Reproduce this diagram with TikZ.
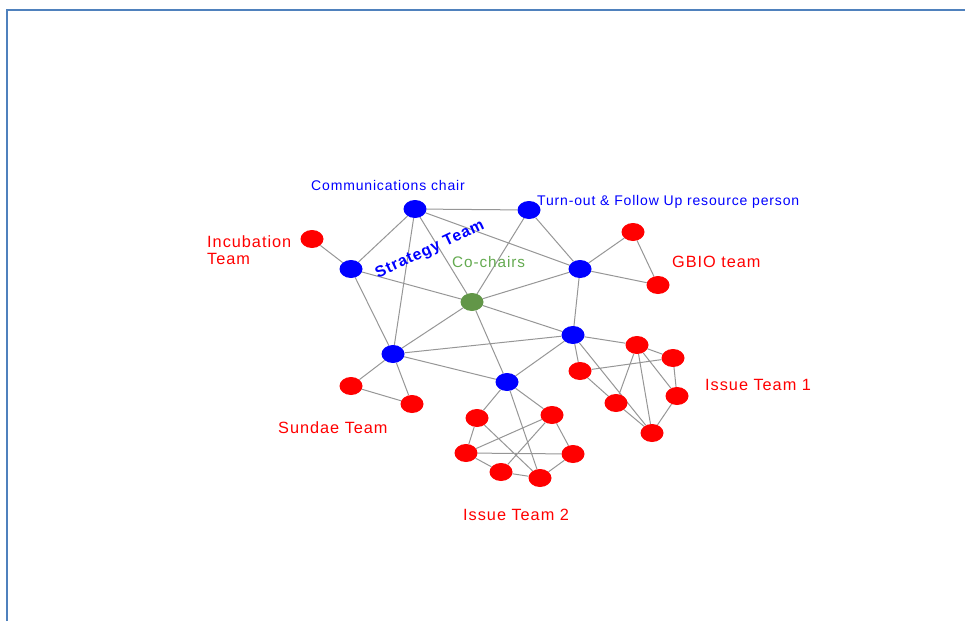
\documentclass[tikz,border=0pt]{standalone}
\usepackage{fontspec}
\setmainfont{Liberation Sans}
\newfontfamily\labfont[LetterSpace=6]{Liberation Sans}
\usetikzlibrary{shapes.geometric,backgrounds}
\definecolor{frameblue}{RGB}{79,129,189}
\definecolor{edgegray}{RGB}{150,150,150}
\definecolor{nodeblue}{RGB}{0,0,255}
\definecolor{nodered}{RGB}{255,0,0}
\definecolor{nodegreen}{RGB}{98,150,72}
\definecolor{textgreen}{RGB}{100,170,80}
\tikzset{
  vtx/.style={ellipse,minimum width=23pt,minimum height=18pt,inner sep=0pt},
  bluev/.style={vtx,fill=nodeblue},
  redv/.style={vtx,fill=nodered},
  greenv/.style={vtx,fill=nodegreen},
  edge/.style={draw=edgegray,line width=1pt},
  bluelab/.style={inner sep=0pt,text=nodeblue,font=\labfont\fontsize{14}{16}\selectfont},
  redlab/.style={inner sep=0pt,text=nodered,font=\labfont\fontsize{16.3}{18}\selectfont},
}
\begin{document}
\begin{tikzpicture}[x=1pt,y=-1pt]
\useasboundingbox (0,0) rectangle (965,621);
% frame
\draw[frameblue,line width=2pt] (7,621) -- (7,10) -- (965,10);
% blue nodes
\node[bluev] (C) at (415,209) {};
\node[bluev] (T) at (529,210) {};
\node[bluev] (SL) at (351,269) {};
\node[bluev] (R) at (580,269) {};
\node[greenv] (G) at (472,302) {};
\node[bluev] (R2) at (573,335) {};
\node[bluev] (L) at (393,354) {};
\node[bluev] (B) at (507,382) {};
% red nodes
\node[redv] (Inc) at (312,239) {};
\node[redv] (GB1) at (633,232) {};
\node[redv] (GB2) at (658,285) {};
\node[redv] (S1) at (351,386) {};
\node[redv] (S2) at (412,404) {};
\node[redv] (ia) at (637,345) {};
\node[redv] (ib) at (673,358) {};
\node[redv] (ic) at (580,371) {};
\node[redv] (id) at (677,396) {};
\node[redv] (ie) at (616,403) {};
\node[redv] (if) at (652,433) {};
\node[redv] (ja) at (477,418) {};
\node[redv] (jb) at (552,415) {};
\node[redv] (jc) at (466,453) {};
\node[redv] (jd) at (573,454) {};
\node[redv] (je) at (501,472) {};
\node[redv] (jf) at (540,478) {};
% labels
\node[bluelab,anchor=base] (lc) at (388,190) {Communications chair};
\node[bluelab,anchor=base west] (lt) at (537,205) {Turn-out \& Follow Up resource person};
\node[redlab,anchor=base west] (li1) at (207,247) {Incubation};
\node[redlab,anchor=base west] (li2) at (207,264) {Team};
\node[redlab,anchor=base west] (lg) at (672,267) {GBIO team};
\node[redlab,anchor=base west] (ls) at (278,433) {Sundae Team};
\node[redlab,anchor=base west] (l1) at (705,390) {Issue Team 1};
\node[redlab,anchor=base west] (l2) at (463,520) {Issue Team 2};
\node[inner sep=0pt,anchor=base west,text=textgreen,font=\labfont\fontsize{15.3}{17}\selectfont] (lco) at (452,267) {Co-chairs};
\node[inner sep=0pt,rotate=25,text=nodeblue,font=\labfont\fontsize{15.8}{17}\selectfont\bfseries] (lst) at (430,250) {Strategy Team};
% edges
\begin{scope}[on background layer]
\path[edge] (C) -- (T) (C) -- (SL) (C) -- (L) (C) -- (G) (C) -- (R)
  (SL) -- (Inc) (SL) -- (G) (SL) -- (L)
  (T) -- (G) (T) -- (R)
  (R) -- (GB1) (R) -- (GB2) (GB1) -- (GB2)
  (R) -- (G) (R) -- (R2)
  (G) -- (L) (G) -- (B) (G) -- (R2)
  (L) -- (R2) (L) -- (B) (B) -- (R2)
  (L) -- (S1) (L) -- (S2) (S1) -- (S2);
\path[edge] (R2) -- (ia) (R2) -- (ic) (R2) -- (if)
  (ic) -- (ie) (ie) -- (if) (ia) -- (ie) (ia) -- (if) (ia) -- (id)
  (ia) -- (ib) (ib) -- (id) (id) -- (if) (ic) -- (ib);
\path[edge] (B) -- (ja) (B) -- (jf) (B) -- (jb)
  (ja) -- (jc) (ja) -- (jf) (jb) -- (jc) (jb) -- (je) (jb) -- (jd)
  (jc) -- (jd) (jc) -- (je) (je) -- (jf) (jf) -- (jd);
\end{scope}
\end{tikzpicture}
\end{document}
